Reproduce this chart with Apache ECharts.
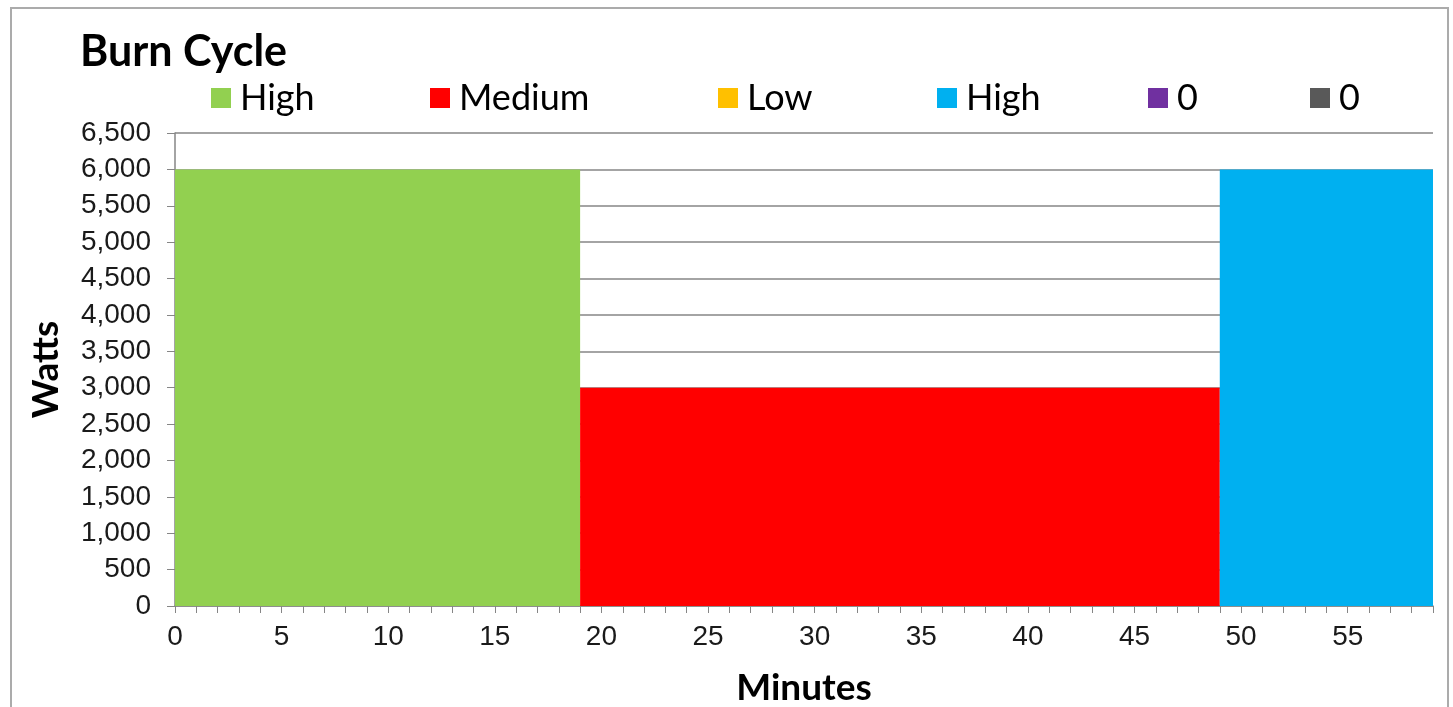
<!DOCTYPE html>
<html>
<head>
<meta charset="utf-8">
<script src="https://cdn.jsdelivr.net/npm/echarts@6/dist/echarts.min.js"></script>
<style>
  html, body { margin: 0; padding: 0; background: #fff; overflow: hidden; }
  #frame { position: absolute; left: 10px; top: 7px; width: 1439px; height: 740px; border: 2px solid #ABABAB; box-sizing: border-box; }
  #chart { position: absolute; left: 0; top: 0; width: 1453px; height: 707px; }
</style>
</head>
<body>
<div id="frame"></div>
<div id="chart"></div>
<script>
// ---- data ----
const chartTitle = 'Burn Cycle';
const xAxisTitle = 'Minutes';
const yAxisTitle = 'Watts';
const seriesNames = ['High', 'Medium', 'Low', 'High ', '0', '0 '];
const seriesColors = ['#92D050', '#FF0000', '#FFC000', '#00B0F0', '#7030A0', '#595959'];
// [minute, watts] pairs of each step
const highStart = [[0, 6000], [19, 6000]];
const medium = [[19, 3000], [49, 3000]];
const low = [];
const highEnd = [[49, 6000], [59, 6000]];
const zeroA = [];
const zeroB = [];
const seriesData = [highStart, medium, low, highEnd, zeroA, zeroB];
const xMin = 0, xMax = 59, xStep = 5;
const yMin = 0, yMax = 6500, yStep = 500;

const legendLefts = [211, 430, 718, 937, 1148, 1310];

const chart = echarts.init(document.getElementById('chart'), null, { renderer: 'canvas' });
const axisGray = '#868686';
const option = {
  animation: false,
  backgroundColor: 'transparent',
  title: {
    text: chartTitle,
    left: 80, top: 31, padding: 0,
    textStyle: { fontFamily: 'Lato', fontWeight: 'bold', fontSize: 43, lineHeight: 43, color: '#000' }
  },
  legend: seriesNames.map((n, i) => ({
    data: [n],
    left: legendLefts[i], top: 80, padding: 0,
    icon: 'rect', itemWidth: 20, itemHeight: 20,
    selectedMode: false,
    textStyle: { fontFamily: 'Lato', fontSize: 36, lineHeight: 36, color: '#000', padding: [0, 0, 0, 4] }
  })),
  grid: { left: 175, right: 20, top: 133, bottom: 101, containLabel: false, outerBoundsMode: 'none' },
  xAxis: {
    type: 'value', min: xMin, max: xMax, interval: xStep,
    name: xAxisTitle, nameLocation: 'middle', nameGap: 64,
    nameTextStyle: { fontFamily: 'Lato', fontWeight: 'bold', fontSize: 37, color: '#000' },
    axisLine: { show: true, lineStyle: { color: axisGray, width: 1.5 } },
    axisTick: { show: true, inside: false, length: 7, lineStyle: { color: axisGray } },
    minorTick: { show: true, splitNumber: 5, length: 7, lineStyle: { color: axisGray } },
    splitLine: { show: false },
    axisLabel: { fontFamily: 'Liberation Sans', fontSize: 28, color: '#1a1a1a', margin: 17,
      formatter: v => (v % xStep === 0 && v < xMax) ? String(v) : '' }
  },
  yAxis: {
    type: 'value', min: yMin, max: yMax, interval: yStep,
    name: yAxisTitle, nameLocation: 'middle', nameGap: 110, nameRotate: 90,
    nameTextStyle: { fontFamily: 'Lato', fontWeight: 'bold', fontSize: 37, color: '#000' },
    axisLine: { show: true, lineStyle: { color: axisGray, width: 1.5 } },
    axisTick: { show: true, inside: false, length: 8, lineStyle: { color: axisGray } },
    splitLine: { show: true, lineStyle: { color: axisGray, width: 1.5 } },
    axisLabel: { fontFamily: 'Liberation Sans', fontSize: 28, color: '#1a1a1a', margin: 24,
      formatter: v => v.toLocaleString('en-US') }
  },
  series: seriesNames.map((n, i) => ({
    name: n, type: 'line', data: seriesData[i],
    showSymbol: false, symbol: 'none',
    color: seriesColors[i],
    lineStyle: { width: 0, color: seriesColors[i] },
    areaStyle: { color: seriesColors[i], opacity: 1 },
    z: 2
  }))
};
chart.setOption(option);
</script>
</body>
</html>
